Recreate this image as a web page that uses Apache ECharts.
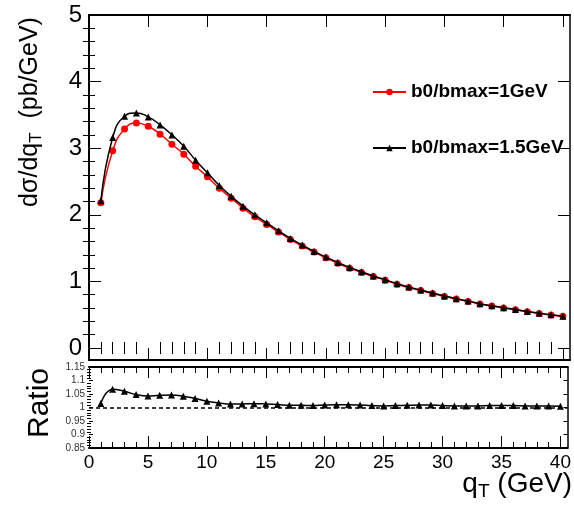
<!DOCTYPE html>
<html><head><meta charset="utf-8">
<script src="https://cdn.jsdelivr.net/npm/echarts@6/dist/echarts.min.js"></script>
<style>html,body{margin:0;padding:0;background:#fff}#c{width:574px;height:510px}</style>
</head><body><div id="c"></div><script>
// ---- data ----
const qT = [1,2,3,4,5,6,7,8,9,10,11,12,13,14,15,16,17,18,19,20,21,22,23,24,25,26,27,28,29,30,31,32,33,34,35,36,37,38,39,40];
const xsecB1 = [2.18,2.96,3.29,3.38,3.33,3.21,3.06,2.91,2.73,2.57,2.40,2.25,2.10,1.97,1.855,1.74,1.63,1.53,1.44,1.355,1.272,1.198,1.135,1.073,1.019,0.958,0.908,0.862,0.818,0.775,0.735,0.70,0.661,0.631,0.601,0.574,0.545,0.52,0.495,0.476];
const xsecB15 = [2.21,3.16,3.48,3.53,3.47,3.35,3.20,3.03,2.82,2.63,2.44,2.28,2.13,2.00,1.88,1.76,1.645,1.545,1.45,1.365,1.285,1.21,1.145,1.08,1.025,0.965,0.915,0.87,0.825,0.78,0.74,0.705,0.665,0.635,0.605,0.578,0.548,0.523,0.498,0.478];
const ratio = [1.015,1.068,1.060,1.048,1.043,1.045,1.046,1.042,1.033,1.023,1.017,1.013,1.013,1.014,1.013,1.011,1.008,1.008,1.007,1.009,1.010,1.010,1.009,1.007,1.006,1.007,1.008,1.009,1.009,1.007,1.006,1.006,1.006,1.007,1.007,1.007,1.006,1.006,1.006,1.005];
const seriesNames = ['b0/bmax=1GeV','b0/bmax=1.5GeV'];
const xMajorTicks = [0,5,10,15,20,25,30,35,40];
const xMinorTicks = [1,2,3,4,6,7,8,9,11,12,13,14,16,17,18,19,21,22,23,24,26,27,28,29,31,32,33,34,36,37,38,39];
const yMajorTicks = [0,1,2,3,4,5];
const yMinorTicks = [0.2,0.4,0.6,0.8,1.2,1.4,1.6,1.8,2.2,2.4,2.6,2.8,3.2,3.4,3.6,3.8,4.2,4.4,4.6,4.8];
const rMajorTicks = [0.85,0.9,0.95,1,1.05,1.1,1.15];
const rMinorTicks = [0.86,0.87,0.88,0.89,0.91,0.92,0.93,0.94,0.96,0.97,0.98,0.99,1.01,1.02,1.03,1.04,1.06,1.07,1.08,1.09,1.11,1.12,1.13,1.14];

const FONT = '"Liberation Sans", Arial, Helvetica, sans-serif';
const X_MIN = 0, X_MAX = 40.6, Y_MIN = -0.18, Y_MAX = 5, R_MIN = 0.85, R_MAX = 1.15;

function axis(kind, grid, pos, min, max, ticks, len, extra) {
  const a = {
    type: 'value', gridIndex: grid, position: pos, min: min, max: max,
    axisLine: { show: false }, splitLine: { show: false },
    axisTick: { show: true, inside: true, length: len, customValues: ticks, lineStyle: { color: '#000', width: 1 } },
    axisLabel: { show: false }
  };
  return Object.assign(a, extra || {});
}
const solid = (w) => ({ show: true, onZero: false, lineStyle: { color: '#000', width: w } });

const xAxes = [
  axis('x', 0, 'bottom', X_MIN, X_MAX, xMajorTicks, 12, { axisLine: solid(2) }),
  axis('x', 0, 'bottom', X_MIN, X_MAX, xMinorTicks, 6),
  axis('x', 0, 'top', X_MIN, X_MAX, xMajorTicks, 12, { axisLine: solid(2) }),
  axis('x', 0, 'top', X_MIN, X_MAX, xMinorTicks, 6),
  axis('x', 1, 'bottom', X_MIN, X_MAX, xMajorTicks, 12, {
    axisLine: solid(2),
    axisLabel: { show: true, customValues: xMajorTicks, margin: 5, fontFamily: FONT, fontSize: 19, color: '#000', showMaxLabel: true }
  }),
  axis('x', 1, 'bottom', X_MIN, X_MAX, xMinorTicks, 6),
  axis('x', 1, 'top', X_MIN, X_MAX, xMajorTicks, 11, { axisLine: solid(2) }),
  axis('x', 1, 'top', X_MIN, X_MAX, xMinorTicks, 6)
];
const yAxes = [
  axis('y', 0, 'left', Y_MIN, Y_MAX, yMajorTicks, 12, {
    axisLine: solid(2),
    axisLabel: { show: true, customValues: yMajorTicks, margin: 7, fontFamily: FONT, fontSize: 24, color: '#000' }
  }),
  axis('y', 0, 'left', Y_MIN, Y_MAX, yMinorTicks, 6),
  axis('y', 0, 'right', Y_MIN, Y_MAX, yMajorTicks, 12, { axisLine: solid(1.5) }),
  axis('y', 0, 'right', Y_MIN, Y_MAX, yMinorTicks, 6),
  axis('y', 1, 'left', R_MIN, R_MAX, rMajorTicks, 4, {
    axisLabel: { show: true, customValues: rMajorTicks, margin: 4, fontFamily: FONT, fontSize: 10, color: '#333' }
  }),
  axis('y', 1, 'left', R_MIN, R_MAX, rMinorTicks, 2),
  axis('y', 1, 'right', R_MIN, R_MAX, rMajorTicks, 4, { axisLine: solid(1.5) }),
  axis('y', 1, 'right', R_MIN, R_MAX, rMinorTicks, 2)
];

const chart = echarts.init(document.getElementById('c'), null, { renderer: 'canvas' });
chart.setOption({
  animation: false,
  backgroundColor: '#fff',
  grid: [
    { left: 89, top: 15, width: 481, height: 345 },
    { left: 89, top: 367, width: 481, height: 81 }
  ],
  xAxis: xAxes,
  yAxis: yAxes,
  legend: {
    data: seriesNames, orient: 'vertical', left: 367, top: 77,
    itemWidth: 33, itemHeight: 8, itemGap: 36,
    textStyle: { fontFamily: FONT, fontSize: 19, fontWeight: 'bold', color: '#000', lineHeight: 20 }
  },
  series: [
    {
      name: seriesNames[0], type: 'line', xAxisIndex: 0, yAxisIndex: 0,
      data: qT.map((x, i) => [x, xsecB1[i]]), smooth: true,
      symbol: 'circle', symbolSize: 7,
      lineStyle: { color: '#ff0000', width: 1.5 }, itemStyle: { color: '#ff0000' }, z: 3
    },
    {
      name: seriesNames[1], type: 'line', xAxisIndex: 0, yAxisIndex: 0,
      data: qT.map((x, i) => [x, xsecB15[i]]), smooth: true,
      symbol: 'triangle', symbolSize: 7,
      lineStyle: { color: '#000', width: 1.5 }, itemStyle: { color: '#000' }, z: 4
    },
    {
      name: 'ratio', type: 'line', xAxisIndex: 4, yAxisIndex: 4,
      data: qT.map((x, i) => [x, ratio[i]]), smooth: true,
      symbol: 'triangle', symbolSize: 7,
      lineStyle: { color: '#000', width: 1.5 }, itemStyle: { color: '#000' },
      markLine: {
        silent: true, symbol: ['none', 'none'], label: { show: false },
        lineStyle: { color: '#000', type: [4, 3], width: 1.5 },
        data: [{ yAxis: 1 }]
      }
    }
  ],
  graphic: [
    {
      type: 'text', x: 30, y: 112, rotation: Math.PI / 2,
      style: {
        text: '{m|dσ/dq}{s|T}{m|  (pb/GeV)}', align: 'center', verticalAlign: 'middle',
        rich: {
          m: { fontFamily: FONT, fontSize: 25, lineHeight: 30, verticalAlign: 'middle', fill: '#000' },
          s: { fontFamily: FONT, fontSize: 17, lineHeight: 10, verticalAlign: 'bottom', fill: '#000' }
        }
      }
    },
    {
      type: 'text', x: 40, y: 403, rotation: Math.PI / 2,
      style: { text: 'Ratio', font: '30px ' + FONT, fill: '#000', align: 'center', verticalAlign: 'middle' }
    },
    {
      type: 'text', x: 572, y: 484,
      style: {
        text: '{m|q}{s|T}{m| (GeV)}', align: 'right', verticalAlign: 'middle',
        rich: {
          m: { fontFamily: FONT, fontSize: 28, lineHeight: 34, verticalAlign: 'middle', fill: '#000' },
          s: { fontFamily: FONT, fontSize: 19, lineHeight: 12, verticalAlign: 'bottom', fill: '#000' }
        }
      }
    }
  ]
});
</script></body></html>
